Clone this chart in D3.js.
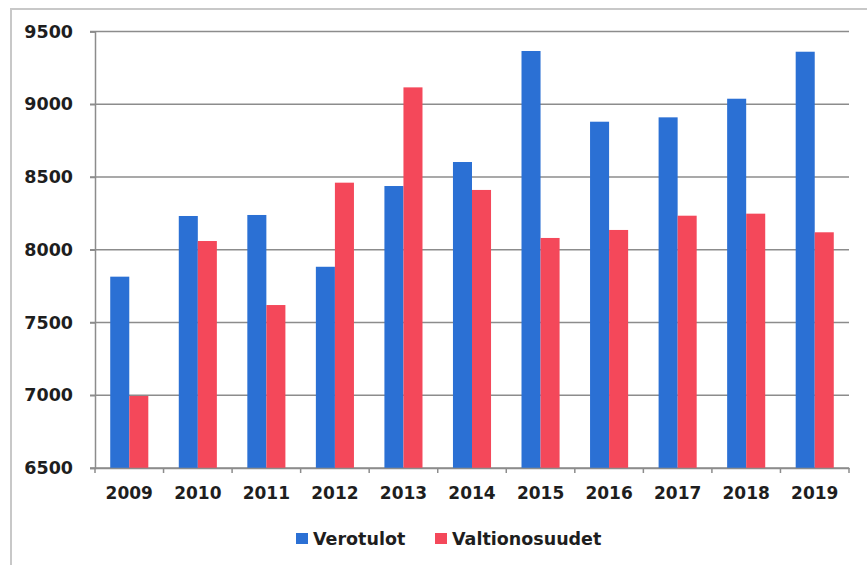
<!DOCTYPE html>
<html><head><meta charset="utf-8">
<script src="https://cdn.jsdelivr.net/npm/d3@7"></script>
<style>body{margin:0;background:#fff;}svg{display:block;}</style>
</head><body>
<svg id="c" width="867" height="565"></svg>
<script>
const years = ["2009","2010","2011","2012","2013","2014","2015","2016","2017","2018","2019"];
const verotulot = [7815, 8232, 8239, 7883, 8438, 8603, 9366, 8880, 8910, 9038, 9361];
const valtionosuudet = [6995, 8060, 7620, 8461, 9116, 8411, 8081, 8136, 8234, 8248, 8120];
const seriesNames = ["Verotulot", "Valtionosuudet"];
const yTicks = [6500, 7000, 7500, 8000, 8500, 9000, 9500];

(function(){
const colors = ["#2b70d4", "#f4485a"];
const svg = d3.select("#c");
const font = "DejaVu Sans, Verdana, sans-serif";

// frame
svg.append("rect").attr("x", 11).attr("y", 9).attr("width", 880).attr("height", 600)
  .attr("fill", "none").attr("stroke", "#c8c8c8").attr("stroke-width", 2);

const pL = 95, pR = 849, pT = 31.5, pB = 468;
const x = d3.scaleBand().domain(years).range([pL, pR]);
const y = d3.scaleLinear().domain([6500, 9500]).range([pB, pT]);

// gridlines
svg.append("g").selectAll("line").data(yTicks).join("line")
  .attr("x1", pL - 5).attr("x2", pR).attr("y1", d => y(d)).attr("y2", d => y(d))
  .attr("stroke", "#8c8c8c").attr("stroke-width", 1.5);

// bars
const data = years.map((yr, i) => ({yr, vals: [verotulot[i], valtionosuudet[i]]}));
const x1 = d3.scaleBand().domain([0, 1]).range([0, x.bandwidth()]).paddingOuter(0.8).paddingInner(0);
svg.append("g").selectAll("g").data(data).join("g")
  .attr("transform", d => `translate(${x(d.yr)},0)`)
  .selectAll("rect").data(d => d.vals.map((v, k) => ({v, k}))).join("rect")
  .attr("x", d => x1(d.k)).attr("width", x1.bandwidth())
  .attr("y", d => y(d.v)).attr("height", d => pB - y(d.v))
  .attr("fill", d => colors[d.k]);

// y axis
const ya = svg.append("g").attr("transform", `translate(${pL},0)`)
  .call(d3.axisLeft(y).tickValues(yTicks).tickSize(5).tickPadding(17).tickFormat(d3.format("d")));
ya.select(".domain").attr("stroke", "#8c8c8c").attr("stroke-width", 1.5);
ya.selectAll(".tick line").attr("stroke", "#8c8c8c").attr("stroke-width", 1.5);
ya.selectAll("text").attr("font-family", font).attr("font-size", 17.5).attr("font-weight", 600).attr("fill", "#1e1e1e");

// x axis
const xa = svg.append("g").attr("transform", `translate(0,${pB})`)
  .call(d3.axisBottom(x).tickSize(0).tickPadding(19));
xa.select(".domain").attr("stroke", "#8c8c8c").attr("stroke-width", 1.5);
xa.selectAll("text").attr("font-family", font).attr("font-size", 17).attr("font-weight", 600).attr("fill", "#1e1e1e");
// category boundary ticks
svg.append("g").selectAll("line").data(years.concat(["end"])).join("line")
  .attr("x1", (d, i) => i < years.length ? x(d) : pR)
  .attr("x2", (d, i) => i < years.length ? x(d) : pR)
  .attr("y1", pB).attr("y2", pB + 5)
  .attr("stroke", "#8c8c8c").attr("stroke-width", 1.5);

// legend
const legX = [296, 435];
const lg = svg.append("g").selectAll("g").data(seriesNames).join("g")
  .attr("transform", (d, i) => `translate(${legX[i]},533)`);
lg.append("rect").attr("width", 12).attr("height", 11).attr("fill", (d, i) => colors[i]);
lg.append("text").attr("x", 17).attr("y", 5.5).attr("dy", "0.35em")
  .attr("font-family", font).attr("font-size", 17.5).attr("font-weight", 600).attr("fill", "#1e1e1e")
  .text(d => d);
})();
</script>
</body></html>
